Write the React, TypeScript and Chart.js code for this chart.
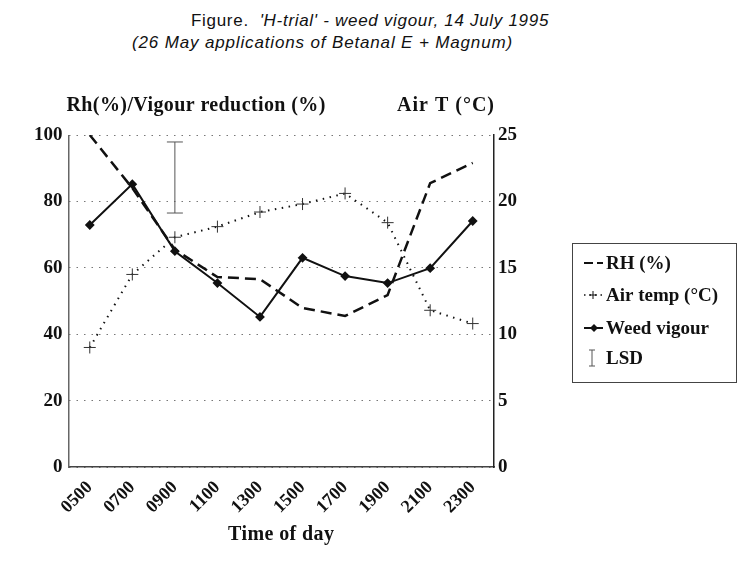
import React, { useEffect, useRef } from 'react';
import Chart from 'chart.js/auto';

// time of day categories
const times = ['0500', '0700', '0900', '1100', '1300', '1500', '1700', '1900', '2100', '2300'];

// left axis (%)
const rhValues = [100, 84, 65.5, 57.2, 56.6, 47.9, 45.5, 51.8, 85.5, 91.6];
const weedVigour = [72.9, 85.2, 65, 55.4, 45.2, 63, 57.5, 55.4, 59.9, 74.1];

// right axis (°C)
const airTemp = [9.0, 14.5, 17.3, 18.1, 19.2, 19.8, 20.6, 18.4, 11.8, 10.8];

// LSD bar, drawn against the left axis
const lsdTime = '0900';
const lsdRange = [76.5, 97.9];

const serif = '"Liberation Serif", "DejaVu Serif", serif';
const ink = '#111';

const overlayPlugin = {
  id: 'overlay',
  beforeDatasetsDraw(chart: any) {
    const { ctx, chartArea } = chart;
    // solid thin left frame line
    ctx.save();
    ctx.strokeStyle = '#666';
    ctx.lineWidth = 1;
    ctx.beginPath();
    ctx.moveTo(chartArea.left + 0.5, chartArea.top);
    ctx.lineTo(chartArea.left + 0.5, chartArea.bottom);
    ctx.stroke();
    ctx.restore();
  },
  afterDatasetsDraw(chart: any) {
    const { ctx, chartArea, scales } = chart;
    ctx.save();

    // LSD I-beam
    const lx = scales.x.getPixelForValue(times.indexOf(lsdTime));
    const lyTop = scales.y.getPixelForValue(lsdRange[1]);
    const lyBot = scales.y.getPixelForValue(lsdRange[0]);
    ctx.strokeStyle = '#555';
    ctx.lineWidth = 1;
    ctx.beginPath();
    ctx.moveTo(lx, lyTop);
    ctx.lineTo(lx, lyBot);
    ctx.moveTo(lx - 8, lyTop);
    ctx.lineTo(lx + 8, lyTop);
    ctx.moveTo(lx - 8, lyBot);
    ctx.lineTo(lx + 8, lyBot);
    ctx.stroke();

    // axis titles
    ctx.fillStyle = ink;
    ctx.font = `bold 20px ${serif}`;
    ctx.textBaseline = 'middle';
    ctx.textAlign = 'left';
    (ctx as any).letterSpacing = '0.4px';
    ctx.fillText('Rh(%)/Vigour reduction (%)', chartArea.left - 2, chartArea.top - 29);
    ctx.textAlign = 'right';
    (ctx as any).letterSpacing = '1px';
    ctx.fillText('Air T (°C)', chartArea.right + 1, chartArea.top - 29);
    (ctx as any).letterSpacing = '0.4px';
    ctx.textAlign = 'center';
    ctx.fillText('Time of day', (chartArea.left + chartArea.right) / 2, 535);
    (ctx as any).letterSpacing = '0px';

    // legend
    const bx = 572.5, by = 243.5, bw = 164, bh = 139;
    ctx.strokeStyle = '#444';
    ctx.lineWidth = 1;
    ctx.strokeRect(bx, by, bw, bh);
    const rows = [263, 295, 328, 358];
    const labels = ['RH (%)', 'Air temp (°C)', 'Weed vigour', 'LSD'];
    ctx.font = `bold 19px ${serif}`;
    ctx.textAlign = 'left';
    labels.forEach((t, i) => ctx.fillText(t, 606, rows[i] + 1));

    ctx.strokeStyle = ink;
    // RH symbol
    ctx.lineWidth = 2.2;
    ctx.setLineDash([9, 4]);
    ctx.beginPath();
    ctx.moveTo(584, rows[0]);
    ctx.lineTo(603, rows[0]);
    ctx.stroke();
    // air temp symbol
    ctx.lineWidth = 1.5;
    ctx.setLineDash([1.5, 4]);
    ctx.beginPath();
    ctx.moveTo(584, rows[1]);
    ctx.lineTo(603, rows[1]);
    ctx.stroke();
    ctx.setLineDash([]);
    ctx.lineWidth = 1;
    ctx.beginPath();
    ctx.moveTo(589, rows[1]);
    ctx.lineTo(597, rows[1]);
    ctx.moveTo(593, rows[1] - 4);
    ctx.lineTo(593, rows[1] + 4);
    ctx.stroke();
    // weed vigour symbol
    ctx.lineWidth = 2;
    ctx.beginPath();
    ctx.moveTo(584, rows[2]);
    ctx.lineTo(603, rows[2]);
    ctx.stroke();
    ctx.fillStyle = ink;
    ctx.beginPath();
    ctx.moveTo(594, rows[2] - 4);
    ctx.lineTo(598, rows[2]);
    ctx.lineTo(594, rows[2] + 4);
    ctx.lineTo(590, rows[2]);
    ctx.closePath();
    ctx.fill();
    // LSD symbol
    ctx.strokeStyle = '#555';
    ctx.lineWidth = 1;
    ctx.beginPath();
    ctx.moveTo(592, rows[3] - 8);
    ctx.lineTo(592, rows[3] + 8);
    ctx.moveTo(589, rows[3] - 8);
    ctx.lineTo(595, rows[3] - 8);
    ctx.moveTo(589, rows[3] + 8);
    ctx.lineTo(595, rows[3] + 8);
    ctx.stroke();

    ctx.restore();
  },
};

export default function App() {
  const canvasRef = useRef<HTMLCanvasElement>(null);

  useEffect(() => {
    document.body.style.margin = '0';
    if (!canvasRef.current) return;

    const chart = new Chart(canvasRef.current, {
      type: 'line',
      data: {
        labels: times,
        datasets: [
          {
            label: 'RH (%)',
            data: rhValues,
            yAxisID: 'y',
            borderColor: ink,
            borderWidth: 2.5,
            borderDash: [11, 6],
            pointRadius: 0,
            tension: 0,
          },
          {
            label: 'Air temp (°C)',
            data: airTemp,
            yAxisID: 'y1',
            borderColor: ink,
            borderWidth: 2,
            borderDash: [1.5, 5.5],
            pointStyle: 'cross',
            pointRadius: 6,
            pointBorderWidth: 1,
            pointBorderColor: '#333',
            tension: 0,
          },
          {
            label: 'Weed vigour',
            data: weedVigour,
            yAxisID: 'y',
            borderColor: ink,
            borderWidth: 2,
            pointStyle: 'rectRot',
            pointRadius: 3.5,
            pointBackgroundColor: ink,
            pointBorderColor: ink,
            tension: 0,
          },
        ],
      },
      options: {
        responsive: false,
        animation: false,
        layout: { padding: { top: 135, left: 0, right: 0, bottom: 0 } },
        plugins: {
          legend: { display: false },
          tooltip: { enabled: false },
        },
        scales: {
          x: {
            offset: true,
            afterFit: (s: any) => { s.height = 98; },
            grid: { display: false },
            border: { display: true, color: '#444', width: 1.5 },
            ticks: {
              color: ink,
              font: { family: serif, size: 18, weight: 'bold' },
              minRotation: 45,
              maxRotation: 45,
              padding: 2,
            },
          },
          y: {
            position: 'left',
            min: 0,
            max: 100,
            afterFit: (s: any) => { s.width = 68.5; },
            ticks: {
              stepSize: 20,
              color: ink,
              padding: 6,
              font: { family: serif, size: 19, weight: 'bold' },
            },
            grid: { color: '#777', lineWidth: 1, drawTicks: false },
            border: { display: true, color: '#666', width: 1, dash: [1.5, 6] },
          },
          y1: {
            position: 'right',
            min: 0,
            max: 25,
            afterFit: (s: any) => { s.width = 251; },
            ticks: {
              stepSize: 5,
              color: ink,
              padding: 4,
              font: { family: serif, size: 19, weight: 'bold' },
            },
            grid: { display: false, drawTicks: false },
            border: { display: true, color: '#222', width: 1.5 },
          },
        },
      },
      plugins: [overlayPlugin],
    });

    return () => chart.destroy();
  }, []);

  const titleStyle: React.CSSProperties = {
    position: 'absolute',
    fontFamily: '"Liberation Sans", Arial, sans-serif',
    fontSize: 17,
    color: '#111',
    whiteSpace: 'pre',
    lineHeight: '20px',
  };

  return (
    <div style={{ position: 'relative', width: 745, height: 565, background: '#fff' }}>
      <div style={{ ...titleStyle, left: 191, top: 11, letterSpacing: 0.7 }}>
        Figure.{'  '}<i>'H-trial' - weed vigour, 14 July 1995</i>
      </div>
      <div style={{ ...titleStyle, left: 132, top: 33, letterSpacing: 0.85 }}>
        <i>(26 May applications of Betanal E + Magnum)</i>
      </div>
      <canvas ref={canvasRef} width={745} height={565} style={{ position: 'absolute', left: 0, top: 0 }} />
    </div>
  );
}
